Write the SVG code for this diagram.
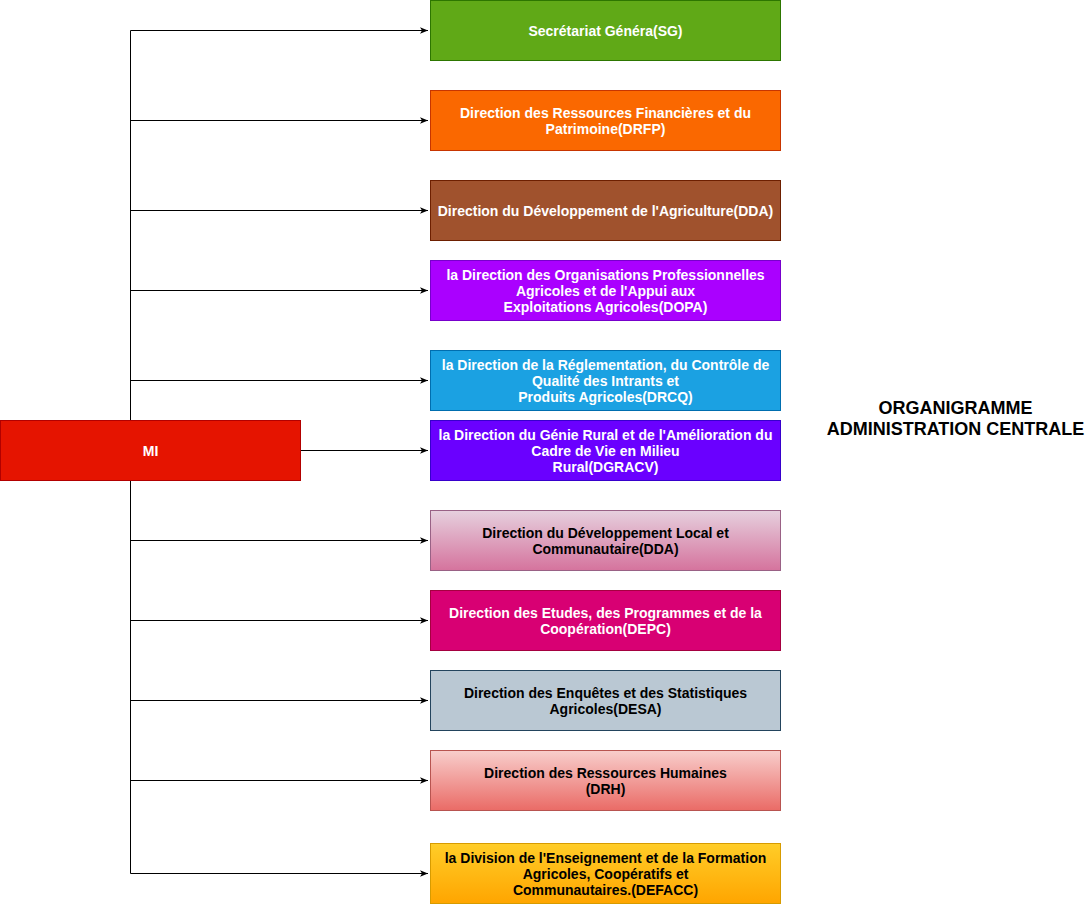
<svg xmlns="http://www.w3.org/2000/svg" width="1091" height="904" viewBox="0 0 1091 904">
<style>
.lbl{font-family:"Liberation Sans",Arial,Helvetica,sans-serif;font-size:14px;font-weight:bold;text-anchor:middle}
.w{fill:#ffffff}.k{fill:#000000}
.c{fill:none;stroke:#000;stroke-width:1}
</style>
<defs>
<marker id="ah" viewBox="0 0 10 10" refX="10" refY="5" markerWidth="8" markerHeight="8" markerUnits="userSpaceOnUse" orient="auto"><path d="M0,1 L10,5 L0,9 L2.5,5 Z" fill="#000"/></marker>
<linearGradient id="g1" x1="0" y1="0" x2="0" y2="1"><stop offset="0" stop-color="#e6d0de"/><stop offset="1" stop-color="#d5739d"/></linearGradient>
<linearGradient id="g2" x1="0" y1="0" x2="0" y2="1"><stop offset="0" stop-color="#f8cecc"/><stop offset="1" stop-color="#ea6b66"/></linearGradient>
<linearGradient id="g3" x1="0" y1="0" x2="0" y2="1"><stop offset="0" stop-color="#ffcd28"/><stop offset="1" stop-color="#ffa500"/></linearGradient>
</defs>
<g id="connectors">
<path class="c" d="M130.5,420.5 V30.5 H428" marker-end="url(#ah)"/>
<path class="c" d="M130.5,120.5 H428" marker-end="url(#ah)"/>
<path class="c" d="M130.5,210.5 H428" marker-end="url(#ah)"/>
<path class="c" d="M130.5,290.5 H428" marker-end="url(#ah)"/>
<path class="c" d="M130.5,380.5 H428" marker-end="url(#ah)"/>
<path class="c" d="M300.5,450.5 H428" marker-end="url(#ah)"/>
<path class="c" d="M150.5,480.5 H130.5 V873.5 H428" marker-end="url(#ah)"/>
<path class="c" d="M130.5,540.5 H428" marker-end="url(#ah)"/>
<path class="c" d="M130.5,620.5 H428" marker-end="url(#ah)"/>
<path class="c" d="M130.5,700.5 H428" marker-end="url(#ah)"/>
<path class="c" d="M130.5,780.5 H428" marker-end="url(#ah)"/>
</g>
<g id="MI"><rect x="0.5" y="420.5" width="300" height="60" fill="#e51400" stroke="#b20000"/><text class="lbl w" x="150.5" y="455.5">MI</text></g>
<g id="SG"><rect x="430.5" y="0.5" width="350" height="60" fill="#60a917" stroke="#2d7600"/><text class="lbl w" x="605.5" y="35.5">Secrétariat Généra(SG)</text></g>
<g id="DRFP"><rect x="430.5" y="90.5" width="350" height="60" fill="#fa6800" stroke="#c73500"/><text class="lbl w" x="605.5" y="117.5">Direction des Ressources Financières et du</text><text class="lbl w" x="605.5" y="133.5">Patrimoine(DRFP)</text></g>
<g id="DDA"><rect x="430.5" y="180.5" width="350" height="60" fill="#a0522d" stroke="#6d1f00"/><text class="lbl w" x="605.5" y="215.5">Direction du Développement de l'Agriculture(DDA)</text></g>
<g id="DOPA"><rect x="430.5" y="260.5" width="350" height="60" fill="#aa00ff" stroke="#7700cc"/><text class="lbl w" x="605.5" y="279.5">la Direction des Organisations Professionnelles</text><text class="lbl w" x="605.5" y="295.5">Agricoles et de l'Appui aux</text><text class="lbl w" x="605.5" y="311.5">Exploitations Agricoles(DOPA)</text></g>
<g id="DRCQ"><rect x="430.5" y="350.5" width="350" height="60" fill="#1ba1e2" stroke="#006eaf"/><text class="lbl w" x="605.5" y="369.5">la Direction de la Réglementation, du Contrôle de</text><text class="lbl w" x="605.5" y="385.5">Qualité des Intrants et</text><text class="lbl w" x="605.5" y="401.5">Produits Agricoles(DRCQ)</text></g>
<g id="DGRACV"><rect x="430.5" y="420.5" width="350" height="60" fill="#6a00ff" stroke="#3700cc"/><text class="lbl w" x="605.5" y="439.5">la Direction du Génie Rural et de l'Amélioration du</text><text class="lbl w" x="605.5" y="455.5">Cadre de Vie en Milieu</text><text class="lbl w" x="605.5" y="471.5">Rural(DGRACV)</text></g>
<g id="DDLC"><rect x="430.5" y="510.5" width="350" height="60" fill="url(#g1)" stroke="#996185"/><text class="lbl k" x="605.5" y="537.5">Direction du Développement Local et</text><text class="lbl k" x="605.5" y="553.5">Communautaire(DDA)</text></g>
<g id="DEPC"><rect x="430.5" y="590.5" width="350" height="60" fill="#d80073" stroke="#a50040"/><text class="lbl w" x="605.5" y="617.5">Direction des Etudes, des Programmes et de la</text><text class="lbl w" x="605.5" y="633.5">Coopération(DEPC)</text></g>
<g id="DESA"><rect x="430.5" y="670.5" width="350" height="60" fill="#bac8d3" stroke="#23445d"/><text class="lbl k" x="605.5" y="697.5">Direction des Enquêtes et des Statistiques</text><text class="lbl k" x="605.5" y="713.5">Agricoles(DESA)</text></g>
<g id="DRH"><rect x="430.5" y="750.5" width="350" height="60" fill="url(#g2)" stroke="#b85450"/><text class="lbl k" x="605.5" y="777.5">Direction des Ressources Humaines</text><text class="lbl k" x="605.5" y="793.5">(DRH)</text></g>
<g id="DEFACC"><rect x="430.5" y="843.5" width="350" height="60" fill="url(#g3)" stroke="#d79b00"/><text class="lbl k" x="605.5" y="862.5">la Division de l'Enseignement et de la Formation</text><text class="lbl k" x="605.5" y="878.5">Agricoles, Coopératifs et</text><text class="lbl k" x="605.5" y="894.5">Communautaires.(DEFACC)</text></g>
<g id="title"><text x="955.5" y="414" style="font-family:'Liberation Sans',Arial,sans-serif;font-size:18px;font-weight:bold;text-anchor:middle" fill="#000">ORGANIGRAMME</text><text x="955.5" y="435" style="font-family:'Liberation Sans',Arial,sans-serif;font-size:18px;font-weight:bold;text-anchor:middle" fill="#000">ADMINISTRATION CENTRALE</text></g>
</svg>
